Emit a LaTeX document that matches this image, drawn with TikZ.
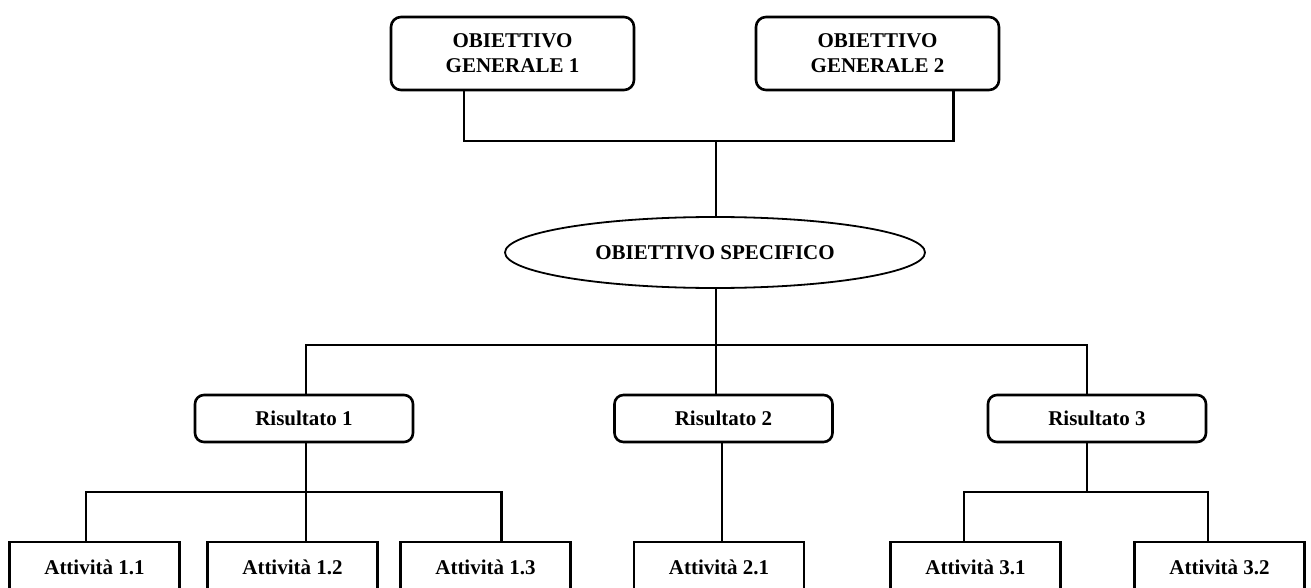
\documentclass[tikz,border=0pt]{standalone}
\usepackage{fontspec}
\setmainfont{Liberation Serif}
\usepackage{tikz}
\usetikzlibrary{positioning,shapes.geometric}
\tikzstyle{goal} = [rectangle, rounded corners=10pt, draw=black, line width=2.6pt, outer sep=0pt,
  minimum width=243pt, minimum height=73pt, align=center, font=\fontsize{21}{25}\selectfont\bfseries]
\tikzstyle{purpose} = [ellipse, draw=black, line width=1.8pt, outer sep=0pt, inner sep=0pt,
  minimum width=420pt, minimum height=71pt, font=\fontsize{21}{25}\selectfont\bfseries]
\tikzstyle{result} = [rectangle, rounded corners=9pt, draw=black, line width=2.6pt, outer sep=0pt,
  minimum width=218pt, minimum height=47pt, font=\fontsize{21}{25}\selectfont\bfseries]
\tikzstyle{activity} = [rectangle, draw=black, line width=2.6pt, outer sep=0pt,
  minimum width=170pt, minimum height=50pt, font=\fontsize{21}{25}\selectfont\bfseries]
\tikzstyle{link} = [draw=black, line width=2.6pt]

\begin{document}
\begin{tikzpicture}[x=1pt,y=-1pt]
        \useasboundingbox (0,0) rectangle (1311,588);
        % Goals ------------------------------------------------------------------------------------
        \node[goal](goal_one) at (512.5,53.5){OBIETTIVO\\GENERALE 1};
        \node[goal, right=122pt of goal_one](goal_two){OBIETTIVO\\GENERALE 2};
        % Purpose ----------------------------------------------------------------------------------
        \node[purpose](purpose) at (715,252.5){OBIETTIVO SPECIFICO};
        % Results ----------------------------------------------------------------------------------
        \node[result](result_one) at (304,418.5){Risultato 1};
        \node[result](result_two) at (723.5,418.5){Risultato 2};
        \node[result](result_three) at (1097,418.5){Risultato 3};
        % Activities -------------------------------------------------------------------------------
        \node[activity](act_11) at (94.5,567){Attività 1.1};
        \node[activity, right=28pt of act_11](act_12){Attività 1.2};
        \node[activity, right=23pt of act_12](act_13){Attività 1.3};
        \node[activity](act_21) at (719,567){Attività 2.1};
        \node[activity](act_31) at (975.5,567){Attività 3.1};
        \node[activity, right=74pt of act_31](act_32){Attività 3.2};
        % Junctions
        \coordinate (goal_bus) at (716,141);
        \coordinate (purpose_bus) at (716,345);
        \coordinate (result_one_bus) at (306,492);
        \coordinate (result_three_bus) at (1087,492);
        % Links ------------------------------------------------------------------------------------
        \draw[link] ([xshift=-48.5pt]goal_one.south) |- (goal_bus) -| ([xshift=76pt]goal_two.south);
        \draw[link] (goal_bus) -- (goal_bus |- purpose.north);
        \draw[link] (purpose_bus |- purpose.south) -- (purpose_bus);
        \draw[link] ([xshift=2pt]result_one.north) |- (purpose_bus) -| ([xshift=-10pt]result_three.north);
        \draw[link] (purpose_bus) -- (purpose_bus |- result_two.north);
        \draw[link] (result_one_bus |- result_one.south) -- (result_one_bus |- act_12.north);
        \draw[link] ([xshift=-8.5pt]act_11.north) |- (result_one_bus) -| ([xshift=16pt]act_13.north);
        \draw[link] ([xshift=-1.5pt]result_two.south) -- ([xshift=-1.5pt]result_two.south |- act_21.north);
        \draw[link] (result_three_bus |- result_three.south) -- (result_three_bus);
        \draw[link] ([xshift=-11.5pt]act_31.north) |- (result_three_bus) -| ([xshift=-11.5pt]act_32.north);
    \end{tikzpicture}
\end{document}
